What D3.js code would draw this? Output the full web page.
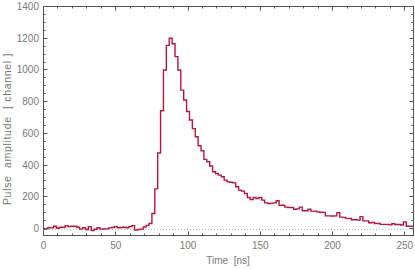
<!DOCTYPE html>
<html lang="en">
<head>
<meta charset="utf-8">
<title>Pulse amplitude</title>
<script src="https://d3js.org/d3.v7.min.js"></script>
<style>
  body { margin: 0; padding: 0; background: #fff; }
  svg { display: block; font-family: "Liberation Sans", Arial, sans-serif; }
  .frame { fill: none; stroke: #555; stroke-width: 1px; }
  .ticklabel { fill: #7a7a7a; font-size: 10px; }
  .axislabel { fill: #7a7a7a; font-size: 10px; }
  .ylabel { font-size: 10.5px; letter-spacing: 0.7px; }
  .zero { stroke: #bbb; stroke-dasharray: 1,2; }
  .pulse { fill: none; stroke: #b8163f; stroke-width: 1.4px; }
</style>
</head>
<body>
<script>
// bins are 2 ns wide, one value per bin (t = 0, 2, 4, ... 256)
var binWidth = 2;
var amplitude = [
  -3, -2, 5, 4, 14, 2, 8, 8, 18, 12, 14, 15, 8, -4, 5, -6, 12,
  -12, -5, 5, -4, -3, -2, 4, 6, 12, 5, 6, 8, 5, 12, 18, -10, -6,
  -4, 10, 20, 32, 95, 250, 476, 743, 1000, 1155, 1200, 1165, 1084, 1000, 873, 810,
  738, 684, 630, 579, 522, 490, 436, 421, 394, 358, 347, 337, 326, 305, 294, 292,
  288, 263, 242, 236, 221, 196, 183, 196, 189, 196, 179, 162, 158, 160, 162, 175,
  147, 147, 135, 133, 133, 122, 124, 135, 112, 112, 122, 110, 110, 105, 103, 102,
  80, 80, 79, 80, 100, 72, 70, 64, 64, 55, 55, 53, 75, 48, 48, 36,
  38, 32, 32, 26, 26, 26, 23, 30, 25, 25, 22, 42, 14, 14, 15
];
var xMajor = [0, 50, 100, 150, 200, 250];
var yMajor = [0, 200, 400, 600, 800, 1000, 1200, 1400];
var xLabel = "Time\u00a0\u00a0[ns]";
var yLabel = "Pulse\u00a0\u00a0amplitude\u00a0\u00a0[\u00a0channel\u00a0]";

var width = 415, height = 269;
var mLeft = 43, mRight = 413, mTop = 6, mBottom = 235;

var svg = d3.select("body").append("svg")
    .attr("width", width)
    .attr("height", height);

var x = d3.scaleLinear().domain([0, 256]).range([mLeft + 0.5, mRight + 0.5]);
var y = d3.scaleLinear().domain([-44, 1400]).range([mBottom + 0.5, mTop + 0.5]);

// zero line
svg.append("line")
    .attr("class", "zero")
    .attr("x1", mLeft).attr("x2", mRight)
    .attr("y1", Math.round(y(0)) + 0.5).attr("y2", Math.round(y(0)) + 0.5);

// histogram as a centred step line
var pts = amplitude.map(function(v, i) { return [i * binWidth, v]; });
var line = d3.line()
    .x(function(d) { return x(d[0]); })
    .y(function(d) { return y(d[1]); })
    .curve(d3.curveStep);

svg.append("path")
    .datum(pts)
    .attr("class", "pulse")
    .attr("d", line);

// frame with ticks pointing inwards on all sides
var g = svg.append("g").attr("stroke", "#555");
var xMinor = d3.range(0, 257, 10).filter(function(t) { return xMajor.indexOf(t) < 0; });
var yMinor = d3.range(0, 1401, 50).filter(function(t) { return yMajor.indexOf(t) < 0; });

function xt(vals, len) {
  vals.forEach(function(t) {
    var px = Math.round(x(t) - 0.5) + 0.5;
    g.append("line").attr("x1", px).attr("x2", px)
      .attr("y1", mBottom + 0.5).attr("y2", mBottom + 0.5 - len);
    g.append("line").attr("x1", px).attr("x2", px)
      .attr("y1", mTop + 0.5).attr("y2", mTop + 0.5 + len);
  });
}
function yt(vals, len) {
  vals.forEach(function(v) {
    var py = Math.round(y(v) - 0.5) + 0.5;
    g.append("line").attr("x1", mLeft + 0.5).attr("x2", mLeft + 0.5 + len)
      .attr("y1", py).attr("y2", py);
    g.append("line").attr("x1", mRight + 0.5).attr("x2", mRight + 0.5 - len)
      .attr("y1", py).attr("y2", py);
  });
}
xt(xMajor, 4); xt(xMinor, 2);
yt(yMajor, 4); yt(yMinor, 2);

svg.append("rect")
    .attr("class", "frame")
    .attr("x", mLeft + 0.5).attr("y", mTop + 0.5)
    .attr("width", mRight - mLeft).attr("height", mBottom - mTop);

// tick labels
svg.selectAll(".xl").data(xMajor).enter().append("text")
    .attr("class", "ticklabel")
    .attr("x", function(d) { return x(d); })
    .attr("y", 249)
    .attr("text-anchor", "middle")
    .text(function(d) { return d; });

svg.selectAll(".yl").data(yMajor).enter().append("text")
    .attr("class", "ticklabel")
    .attr("x", 39)
    .attr("y", function(d) { return y(d) + 3.5; })
    .attr("text-anchor", "end")
    .text(function(d) { return d; });

svg.append("text")
    .attr("class", "axislabel")
    .attr("x", (mLeft + mRight) / 2)
    .attr("y", 264)
    .attr("text-anchor", "middle")
    .text(xLabel);

svg.append("text")
    .attr("class", "axislabel ylabel")
    .attr("transform", "translate(11,129) rotate(-90)")
    .attr("text-anchor", "middle")
    .text(yLabel);
</script>
</body>
</html>
